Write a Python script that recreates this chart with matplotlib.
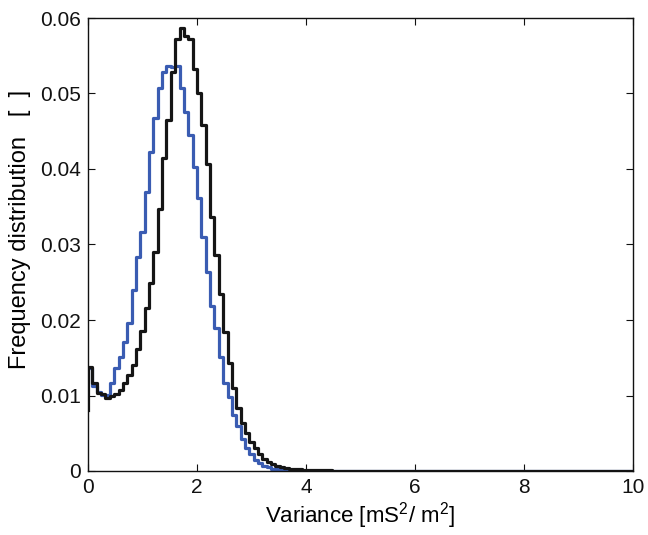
import numpy as np
import matplotlib
matplotlib.use("Agg")
import matplotlib.pyplot as plt

# ---- data ----
bin_width = 0.08
n_bins = 125  # covers 0..10

black_start = 0.0081
black_vals = [0.0138, 0.0116, 0.0103, 0.0102, 0.0097, 0.0099, 0.0102, 0.0107,
              0.0116, 0.0127, 0.0140, 0.0161, 0.0185, 0.0216, 0.0249, 0.0290,
              0.0347, 0.0415, 0.0465, 0.0529, 0.0572, 0.0587, 0.0576, 0.0572,
              0.0533, 0.0501, 0.0458, 0.0407, 0.0337, 0.0286, 0.0234, 0.0184,
              0.0143, 0.0110, 0.0084, 0.0063, 0.0050, 0.0039, 0.0030, 0.0023,
              0.0016, 0.0012, 0.0009, 0.0007, 0.0005, 0.0004, 0.0003, 0.00025,
              0.0002, 0.00017, 0.00014, 0.00012, 0.0001, 0.00009, 0.00008, 0.00007,
              0.00006, 0.00005, 0.00004]

blue_vals = [0.0136, 0.0113, 0.0105, 0.0101, 0.0101, 0.0116, 0.0137, 0.0151,
             0.0171, 0.0196, 0.0240, 0.0283, 0.0317, 0.0369, 0.0422, 0.0467,
             0.0507, 0.0529, 0.0536, 0.0535, 0.0536, 0.0507, 0.0476, 0.0445,
             0.0403, 0.0361, 0.0310, 0.0264, 0.0219, 0.0189, 0.0151, 0.0116,
             0.0098, 0.0074, 0.0059, 0.0043, 0.0030, 0.0022, 0.0015, 0.0010,
             0.0007, 0.0005, 0.0003, 0.0002, 0.00015, 0.0001, 0.00006, 0.00004,
             0.00003, 0.00002]

x_ticks = [0, 2, 4, 6, 8, 10]
y_ticks = [0, 0.01, 0.02, 0.03, 0.04, 0.05, 0.06]
y_ticklabels = ["0", "0.01", "0.02", "0.03", "0.04", "0.05", "0.06"]

# ---- style ----
plt.rcParams['font.family'] = ['Liberation Sans', 'DejaVu Sans']
plt.rcParams['mathtext.fontset'] = 'custom'
plt.rcParams['mathtext.rm'] = 'Liberation Sans'
plt.rcParams['mathtext.it'] = 'Liberation Sans'

def pad(vals):
    v = np.zeros(n_bins)
    v[:len(vals)] = vals
    return v

edges = np.arange(n_bins + 1) * bin_width

fig = plt.figure(figsize=(6.48, 5.35), dpi=100)
ax = fig.add_axes([88/648, 1 - 471/535, (633 - 88)/648, (471 - 18)/535])

bv = pad(blue_vals)
kv = pad(black_vals)

ax.step(edges, np.append(bv, bv[-1]), where='post', color='#3a5cb2', lw=2.3)
xk = np.concatenate([[0.0], edges])
yk = np.concatenate([[black_start], kv, [kv[-1]]])
ax.step(xk, yk, where='post', color='#151515', lw=2.3)

ax.set_xlim(0, 10)
ax.set_ylim(0, 0.06)
ax.set_xticks(x_ticks)
ax.set_xticklabels([str(t) for t in x_ticks])
ax.set_yticks(y_ticks)
ax.set_yticklabels(y_ticklabels)
ax.tick_params(direction='in', top=True, right=True, length=5, width=0.8,
               labelsize=15, pad=5, colors='#111111')
for s in ax.spines.values():
    s.set_linewidth(1.0)
    s.set_color('#111111')

ax.set_xlabel('Variance [mS$^{2}$/ m$^{2}$]', fontsize=16, labelpad=2)
ax.set_ylabel('Frequency distribution   [  ]', fontsize=17)
ax.yaxis.set_label_coords(-0.105, 0.533)

fig.savefig('out.png', dpi=100)
